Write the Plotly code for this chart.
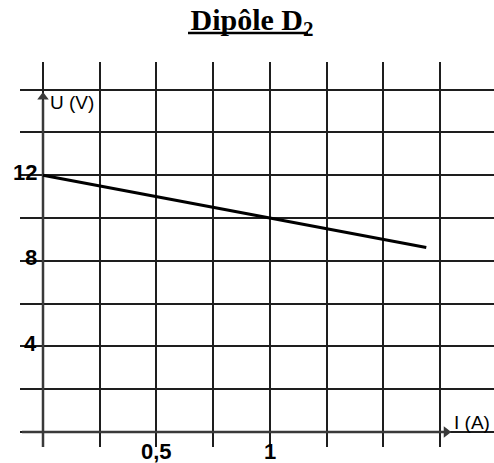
import plotly.graph_objects as go

# Data
current_A = [0.0, 1.69]
voltage_V = [12.0, 8.62]
y_tick_vals = [4, 8, 12]
y_tick_text = ["4", "8", "12"]
x_tick_vals = [0.5, 1.0]
x_tick_text = ["0,5", "1"]

W, H = 494, 463
x_range = [-0.1014, 1.9885]
y_range = [-0.70, 17.29]

fig = go.Figure()

axis_col = "#3a3a3a"
# axes drawn as lines with arrowheads
fig.add_trace(go.Scatter(x=[0, 0], y=[y_range[0], 15.5], mode="lines",
                         line=dict(color=axis_col, width=2.5),
                         hoverinfo="skip", showlegend=False))
fig.add_trace(go.Scatter(x=[0], y=[15.65], mode="markers",
                         marker=dict(symbol="triangle-up", size=10, color=axis_col),
                         hoverinfo="skip", showlegend=False))
fig.add_trace(go.Scatter(x=[-0.0926, 1.77], y=[0, 0], mode="lines",
                         line=dict(color=axis_col, width=2.5),
                         hoverinfo="skip", showlegend=False))
fig.add_trace(go.Scatter(x=[1.778], y=[0], mode="markers",
                         marker=dict(symbol="triangle-right", size=10, color=axis_col),
                         hoverinfo="skip", showlegend=False))

fig.add_trace(go.Scatter(
    x=current_A, y=voltage_V, mode="lines",
    line=dict(color="black", width=3), hoverinfo="skip", showlegend=False))

grid_col = "#1e1e1e"
fig.update_xaxes(range=x_range, dtick=0.25, tick0=0, showgrid=True,
                 gridcolor=grid_col, gridwidth=1.5, zeroline=False,
                 showticklabels=False, showline=False, ticks="", fixedrange=True)
fig.update_yaxes(range=y_range, dtick=2, tick0=0, showgrid=True,
                 gridcolor=grid_col, gridwidth=1.5, zeroline=False,
                 showticklabels=False, showline=False, ticks="", fixedrange=True)

ann = []
lab_font = dict(family="Liberation Sans, Arial, sans-serif", size=22, color="black")
for v, t in zip(y_tick_vals, y_tick_text):
    ann.append(dict(x=0, y=v, xref="x", yref="y", text="<b>%s</b>" % t,
                    showarrow=False, xanchor="right", yanchor="middle",
                    xshift=-4, yshift=3, font=lab_font))
for v, t in zip(x_tick_vals, x_tick_text):
    ann.append(dict(x=v, y=0, xref="x", yref="y", text="<b>%s</b>" % t,
                    showarrow=False, xanchor="center", yanchor="middle",
                    yshift=-19, font=lab_font))

axis_font = dict(family="Liberation Sans, Arial, sans-serif", size=19, color="black")
ann.append(dict(x=0, y=15.42, xref="x", yref="y", text="U (V)", showarrow=False,
                xanchor="left", yanchor="middle", xshift=5, font=axis_font))
ann.append(dict(x=1.803, y=0, xref="x", yref="y", text="I (A)", showarrow=False,
                xanchor="left", yanchor="middle", xshift=0, yshift=10, font=axis_font))

fig.update_layout(
    width=W, height=H,
    margin=dict(l=20, r=0, t=62, b=16),
    paper_bgcolor="white", plot_bgcolor="white",
    title=dict(text="<b>Dipôle D<sub>2</sub></b>", x=252 / W, xanchor="center",
               y=1 - 19 / H, yanchor="middle",
               font=dict(family="Liberation Serif, Times New Roman, serif",
                         size=30, color="black")),
    annotations=ann,
    shapes=[dict(type="line", xref="paper", yref="paper",
                 x0=(188 - 20) / 474, x1=(308 - 20) / 474,
                 y0=(447 - 33) / 385, y1=(447 - 33) / 385,
                 line=dict(color="black", width=2.5))],
)

fig.write_html("out.html", config={"displayModeBar": False},
               post_script="document.body.style.margin='0';")
